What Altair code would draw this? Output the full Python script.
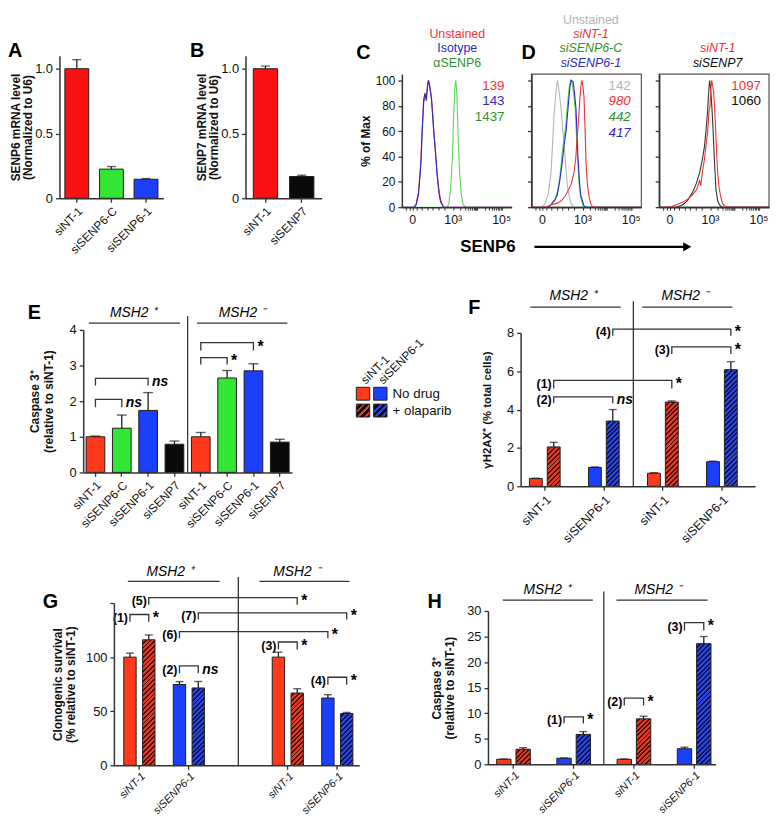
import math
import altair as alt
import pandas as pd

FONT = "Liberation Sans"
M = 8                 # page margin
CW, CH = 770, 815     # canvas size


def P(v):
    return v - M


# ======================= DATA =======================
a_cats = ["siNT-1", "siSENP6-C", "siSENP6-1"]
a_vals = [1.0, 0.225, 0.147]
a_errs = [0.07, 0.02, 0.005]

b_cats = ["siNT-1", "siSENP7"]
b_vals = [1.0, 0.168]
b_errs = [0.02, 0.01]

# flow histograms on the (biexponential) display axis: (display position, % of max)
flow_tick_pos = [0, 1.41, 3.1]
flow_tick_lab = ["0", "10³", "10⁵"]
c_unstained = [(-0.38, 0), (0.05, 0), (0.12, 3), (0.2, 12), (0.28, 35), (0.33, 62), (0.38, 82), (0.43, 88),
               (0.47, 86), (0.52, 98), (0.55, 100), (0.6, 93), (0.65, 87), (0.7, 72), (0.73, 61), (0.8, 40),
               (0.85, 27), (0.92, 12), (0.97, 6), (1.07, 0), (3.45, 0)]
c_isotype = [(-0.38, 0), (0.05, 0), (0.12, 2), (0.2, 10), (0.28, 33), (0.33, 60), (0.38, 85), (0.43, 90),
             (0.47, 84), (0.52, 96), (0.55, 100), (0.6, 95), (0.65, 86), (0.7, 70), (0.73, 60), (0.8, 42),
             (0.85, 25), (0.92, 10), (0.97, 4), (1.07, 0), (3.45, 0)]
c_asenp6 = [(-0.38, 0), (1.2, 0), (1.26, 3), (1.32, 15), (1.38, 38), (1.43, 75), (1.47, 95), (1.5, 100),
            (1.54, 88), (1.59, 50), (1.64, 25), (1.69, 10), (1.76, 2), (1.85, 0), (3.45, 0)]
c_mfi = ["139", "143", "1437"]

d_unstained = [(-0.38, 0), (-0.05, 0), (0.07, 2), (0.2, 10), (0.3, 27), (0.41, 74), (0.48, 92), (0.52, 100),
               (0.56, 95), (0.6, 88), (0.66, 76), (0.72, 58), (0.76, 49), (0.82, 30), (0.87, 17), (0.95, 7),
               (1.0, 3), (1.1, 0), (3.45, 0)]
d_sint1 = [(-0.38, 0), (0.1, 0), (0.3, 2), (0.5, 3), (0.66, 5), (0.8, 9), (0.87, 12), (1.0, 18), (1.1, 27),
           (1.16, 38), (1.21, 54), (1.27, 72), (1.31, 87), (1.35, 97), (1.38, 100), (1.42, 94), (1.45, 87),
           (1.49, 60), (1.52, 35), (1.57, 18), (1.62, 9), (1.68, 3), (1.75, 0), (3.45, 0)]
d_senp6c = [(-0.38, 0), (0.2, 0), (0.3, 2), (0.45, 7), (0.52, 12), (0.6, 22), (0.67, 38), (0.74, 52),
            (0.8, 62), (0.87, 80), (0.93, 94), (0.98, 100), (1.04, 97), (1.1, 88), (1.15, 75), (1.22, 40),
            (1.28, 18), (1.33, 8), (1.42, 1), (1.5, 0), (3.45, 0)]
d_senp61 = [(-0.38, 0), (0.2, 0), (0.3, 2), (0.45, 6), (0.52, 10), (0.6, 20), (0.69, 35), (0.76, 50),
            (0.83, 61), (0.9, 80), (0.96, 95), (1.0, 100), (1.07, 99), (1.12, 90), (1.17, 78), (1.24, 40),
            (1.3, 18), (1.34, 9), (1.45, 1), (1.55, 0), (3.45, 0)]
d_mfi = ["142", "980", "442", "417"]

d7_senp7 = [(-0.38, 0), (0.2, 0), (0.45, 2), (0.6, 5), (0.79, 12), (0.92, 19), (1.03, 27), (1.12, 37),
            (1.2, 48), (1.26, 62), (1.31, 76), (1.35, 92), (1.38, 100), (1.42, 92), (1.46, 78), (1.5, 61),
            (1.55, 35), (1.6, 14), (1.66, 5), (1.72, 2), (1.8, 0), (3.45, 0)]
d7_sint1 = [(-0.38, 0), (0.0, 0), (0.1, 1), (0.45, 4), (0.6, 6), (0.79, 10), (0.93, 14), (1.03, 21),
            (1.07, 17), (1.13, 28), (1.2, 38), (1.26, 50), (1.31, 59), (1.36, 76), (1.39, 79), (1.42, 92),
            (1.45, 100), (1.49, 95), (1.52, 91), (1.56, 75), (1.59, 61), (1.63, 40), (1.66, 27),
            (1.71, 15), (1.76, 9), (1.83, 3), (1.9, 1), (2.0, 0), (3.45, 0)]
d7_mfi = ["1097", "1060"]

e_cats = ["siNT-1", "siSENP6-C", "siSENP6-1", "siSENP7"]
e_plus_vals = [1.0, 1.24, 1.74, 0.79]
e_plus_errs = [0.02, 0.37, 0.5, 0.09]
e_minus_vals = [1.0, 2.65, 2.85, 0.85]
e_minus_errs = [0.12, 0.21, 0.2, 0.08]
# (from, to, top, drop, significance)
e_brackets = [("+|siNT-1", "+|siSENP6-C", 2.05, 1.83, "ns"),
              ("+|siNT-1", "+|siSENP6-1", 2.64, 2.44, "ns"),
              ("-|siNT-1", "-|siSENP6-C", 3.22, 3.03, "*"),
              ("-|siNT-1", "-|siSENP6-1", 3.64, 3.42, "*")]

grp_cats = ["siNT-1", "siSENP6-1"]
treatments = ["No drug", "+ olaparib"]

f_nodrug_vals = [0.4, 0.98, 0.68, 1.28]
f_nodrug_errs = [0.02, 0.03, 0.03, 0.03]
f_olap_vals = [2.05, 3.4, 4.39, 6.08]
f_olap_errs = [0.24, 0.6, 0.06, 0.42]
# (label, from key, from treatment, to key, to treatment, top, drop, significance)
f_brackets = [("(1)", "+|siNT-1", 1, "-|siNT-1", 1, 5.52, 5.1, "*"),
              ("(2)", "+|siNT-1", 1, "+|siSENP6-1", 1, 4.66, 4.33, "ns"),
              ("(3)", "-|siNT-1", 1, "-|siSENP6-1", 1, 7.27, 6.9, "*"),
              ("(4)", "+|siSENP6-1", 1, "-|siSENP6-1", 1, 8.2, 7.85, "*")]

g_nodrug_vals = [100, 74.7, 100, 62.2]
g_nodrug_errs = [3.7, 2.7, 4.6, 3.1]
g_olap_vals = [116, 71.5, 66.8, 47.9]
g_olap_errs = [4.5, 6.0, 4.0, 1.0]
g_brackets = [("(1)", "+|siNT-1", 0, "+|siNT-1", 1, 139.4, 132.6, "*"),
              ("(2)", "+|siSENP6-1", 0, "+|siSENP6-1", 1, 92, 85, "ns"),
              ("(3)", "-|siNT-1", 0, "-|siNT-1", 1, 114, 107, "*"),
              ("(4)", "-|siSENP6-1", 0, "-|siSENP6-1", 1, 81.4, 74.4, "*"),
              ("(5)", "+|siNT-1", 1, "-|siNT-1", 1, 155, 148.3, "*"),
              ("(6)", "+|siSENP6-1", 0, "-|siSENP6-1", 0, 123.5, 117.4, "*"),
              ("(7)", "+|siSENP6-1", 1, "-|siSENP6-1", 1, 141, 134.7, "*")]

h_nodrug_vals = [1.0, 1.2, 1.0, 3.05]
h_nodrug_errs = [0.05, 0.05, 0.05, 0.3]
h_olap_vals = [2.95, 5.85, 8.9, 23.6]
h_olap_errs = [0.3, 0.55, 0.5, 1.4]
h_brackets = [("(1)", "+|siSENP6-1", 0, "+|siSENP6-1", 1, 9.28, 8.0, "*"),
              ("(2)", "-|siNT-1", 0, "-|siNT-1", 1, 12.96, 11.5, "*"),
              ("(3)", "-|siSENP6-1", 0, "-|siSENP6-1", 1, 27.7, 26.2, "*")]

# ======================= STYLE =======================
EDGE = "#1e1e1e"
RED_A = "#fb1111"
RED = "#ff3a1c"
GREEN = "#33e633"
BLUE = "#1c3ffb"
BLACK = "#0a0a0a"
RED_H, RED_D = "#e03a22", "#4a0d06"
BLUE_H, BLUE_D = "#2b45e0", "#0a1048"
F_RED, F_BLUE, F_GREEN, F_GRAY = "#f03232", "#2a2ac4", "#5ad65a", "#b4b4b4"
T_GREEN = "#2f8f2f"

AXB = dict(domainColor="#333333", domainWidth=1.5, tickColor="#333333", tickWidth=1.3, tickSize=4,
           labelFont=FONT, labelColor="#111111", titleFont=FONT, titleColor="#111111",
           titleFontWeight="bold", grid=False, labelFlush=False, labelOverlap=False,
           minExtent=0, maxExtent=400, zindex=1)


def y_axis(X, values, title=None, fs=13, tp=6, tfs=12, labels=True, expr=None, lh=13):
    kw = dict(AXB)
    kw.update(orient="left", offset=-P(X), values=values, labelFontSize=fs, labelPadding=3,
              titleFontSize=tfs, titlePadding=tp, titleLineHeight=lh, title=title)
    if not labels:
        kw["labels"] = False
    if expr:
        kw["labelExpr"] = expr
    return alt.Axis(**kw)


def x_axis(Y, values=None, expr=None, fs=12, angled=True, italic=False, lp=3, **extra):
    kw = dict(AXB)
    kw.update(orient="bottom", offset=P(Y) - CH, labelFontSize=fs, labelPadding=lp, title=None)
    if angled:
        kw.update(labelAngle=-45, labelAlign="right", labelBaseline="top")
    else:
        kw.update(labelAngle=0)
    if values is not None:
        kw["values"] = values
    if expr:
        kw["labelExpr"] = expr
    if italic:
        kw["labelFontStyle"] = "italic"
    kw.update(extra)
    return alt.Axis(**kw)


def band_geom(x0, x1, n, pi, po):
    step = (x1 - x0) / (n - pi + 2 * po)
    return step, step * (1 - pi)


def split_bp(bp, bw):
    """band position inside [0,1] plus remaining pixel shift"""
    c = min(1.0, max(0.0, bp))
    return c, (bp - c) * bw


def hatch(c1, c2, w, h, period=3.4, frac=0.6):
    s = w + h
    d = w * w + h * h
    n = max(2, int(round(s / (1.4142 * period))))
    stops = []
    for k in range(n):
        o0, o1, o2 = k / n, (k + frac) / n, (k + 1) / n
        stops += [alt.GradientStop(color=c1, offset=o0), alt.GradientStop(color=c1, offset=o1),
                  alt.GradientStop(color=c2, offset=o1), alt.GradientStop(color=c2, offset=o2)]
    return alt.LinearGradient(gradient="linear", stops=stops, x1=0, y1=0, x2=w * s / d, y2=h * s / d)


class Enc:
    """x / y encodings of one panel, all carrying the panel's own scale and axis"""

    def __init__(self, xs, ys, xax, yax):
        self.xs, self.ys, self.xax, self.yax = xs, ys, xax, yax

    def X(self, field, **kw):
        return alt.X(field, scale=self.xs, axis=self.xax, **kw)

    def Y(self, field, **kw):
        return alt.Y(field, scale=self.ys, axis=self.yax, **kw)


# ======================= SIMPLE BAR PANELS (A, B, E) =======================
def simple_panel(keys, vals, errs, colors, enc, cap):
    df = pd.DataFrame({"key": keys, "v": vals, "top": [v + e for v, e in zip(vals, errs)], "col": colors})
    layers = []
    for col in dict.fromkeys(colors):
        layers.append(alt.Chart(df).transform_filter(alt.datum.col == col)
                      .mark_bar(fill=col, stroke=EDGE, strokeWidth=1)
                      .encode(x=enc.X("key:N"), y=enc.Y("v:Q")))
    layers.append(alt.Chart(df).mark_rule(color=EDGE, strokeWidth=1.3).encode(
        x=enc.X("key:N"), y=enc.Y("v:Q"), y2="top:Q"))
    layers.append(alt.Chart(df).mark_tick(orient="horizontal", size=cap, thickness=1.4, color=EDGE).encode(
        x=enc.X("key:N"), y=enc.Y("top:Q")))
    return layers


lab_expr = "split(datum.label, '|')[1]"
dec_expr = "datum.value == 0 ? '0' : format(datum.value, '.1f')"

# ---- A ----
encA = Enc(alt.Scale(domain=a_cats, range=[P(60), P(165)], paddingInner=0.31, paddingOuter=0.157),
           alt.Scale(domain=[0, 1.1], range=[P(196), P(52)]),
           x_axis(196, fs=12),
           y_axis(60, [0, 0.5, 1.0], ["SENP6 mRNA level", "(Normalized to U6)"], tp=0, expr=dec_expr, lh=12.5))
panelA = simple_panel(a_cats, a_vals, a_errs, [RED_A, GREEN, BLUE], encA, 9)

# ---- B ----
encB = Enc(alt.Scale(domain=b_cats, range=[P(248), P(325)], paddingInner=0.33, paddingOuter=0.215),
           alt.Scale(domain=[0, 1.1], range=[P(196), P(52)]),
           x_axis(196, fs=12),
           y_axis(248, [0, 0.5, 1.0], ["SENP7 mRNA level", "(Normalized to U6)"], tp=0, expr=dec_expr, lh=12.5))
panelB = simple_panel(b_cats, b_vals, b_errs, [RED_A, BLACK], encB, 9)

# ======================= FLOW PANELS (C, D) =======================
FX = [-0.38, 3.45]
FY = [0, 105]
DEC = (flow_tick_pos[2] - flow_tick_pos[1]) / 2          # width of one decade on the display axis
flow_minor = ([-0.25, -0.12, 0.15, 0.3, 0.5, 0.7, 0.9, 1.1] +
              [flow_tick_pos[1] + j * DEC + DEC * math.log10(k) for j in (0, 1) for k in range(2, 10)] +
              [flow_tick_pos[1] + DEC])
flow_all_ticks = sorted(flow_tick_pos + flow_minor)


def flow_panel(x0, x1, curves, mfi, mfi_cols, mfi_italic, mfi_u, mfi_p, heads, head_u, head_p,
               ylabels, frame):
    enc = Enc(alt.Scale(domain=FX, range=[P(x0), P(x1)]),
              alt.Scale(domain=FY, range=[P(205), P(70.5)]),
              x_axis(205, values=flow_all_ticks, angled=False, labels=False, tickSize=3, tickWidth=1),
              y_axis(x0, [0, 20, 40, 60, 80, 100], "% of Max" if ylabels else None, fs=12, tp=3,
                     labels=ylabels))
    layers = []
    if frame:
        fdf = pd.DataFrame({"u0": [FX[0]], "u1": [FX[1]], "p0": [FY[0]], "p1": [FY[1]]})
        layers.append(alt.Chart(fdf).mark_rect(fillOpacity=0, stroke="#555555", strokeWidth=1.2).encode(
            x=enc.X("u0:Q"), x2="u1:Q", y=enc.Y("p0:Q"), y2="p1:Q"))
    for pts, col in curves:
        df = pd.DataFrame(pts, columns=["u", "p"])
        layers.append(alt.Chart(df).mark_line(color=col, strokeWidth=1.1).encode(
            x=enc.X("u:Q"), y=enc.Y("p:Q")))
    # tick labels of the display axis, one text mark each
    for pos, lab in zip(flow_tick_pos, flow_tick_lab):
        df = pd.DataFrame({"u": [pos], "p": [-10.5]})
        layers.append(alt.Chart(df).mark_text(text=lab, font=FONT, fontSize=12.5, baseline="middle",
                                              color="#111111")
                      .encode(x=enc.X("u:Q"), y=enc.Y("p:Q")))
    for i, (t, c) in enumerate(zip(mfi, mfi_cols)):
        df = pd.DataFrame({"t": [t], "u": [mfi_u], "p": [mfi_p[i]]})
        layers.append(alt.Chart(df).mark_text(font=FONT, fontSize=13.5, align="right", baseline="middle",
                                              color=c, fontStyle="italic" if mfi_italic[i] else "normal")
                      .encode(x=enc.X("u:Q"), y=enc.Y("p:Q"), text="t:N"))
    for i, (t, c, it) in enumerate(heads):
        df = pd.DataFrame({"t": [t], "u": [head_u], "p": [head_p[i]]})
        layers.append(alt.Chart(df).mark_text(font=FONT, fontSize=12.5, align="center", baseline="middle",
                                              color=c, fontStyle="italic" if it else "normal")
                      .encode(x=enc.X("u:Q"), y=enc.Y("p:Q"), text="t:N"))
    return layers, enc


panelC, _ = flow_panel(406, 517, [(c_asenp6, F_GREEN), (c_unstained, F_RED), (c_isotype, F_BLUE)],
                       c_mfi, [F_RED, F_BLUE, T_GREEN], [False] * 3, 3.2, [95.5, 83.4, 70.9],
                       [("Unstained", F_RED, False), ("Isotype", F_BLUE, False), ("αSENP6", T_GREEN, False)],
                       1.55, [136.6, 125.3, 114.0], True, False)
panelD, encD = flow_panel(537, 648, [(d_unstained, F_GRAY), (d_senp6c, F_GREEN), (d_senp61, F_BLUE),
                                     (d_sint1, F_RED)],
                          d_mfi, [F_GRAY, F_RED, T_GREEN, F_BLUE], [False, True, True, True], 3.08,
                          [95.5, 83.4, 70.9, 58.1],
                          [("Unstained", F_GRAY, False), ("siNT-1", F_RED, True),
                           ("siSENP6-C", T_GREEN, True), ("siSENP6-1", F_BLUE, True)],
                          1.69, [148.0, 136.6, 125.3, 114.0], False, True)
panelD7, _ = flow_panel(666, 777, [(d7_senp7, "#333333"), (d7_sint1, F_RED)],
                        d7_mfi, [F_RED, BLACK], [False, False], 3.17, [95.5, 83.4],
                        [("siNT-1", F_RED, True), ("siSENP7", BLACK, True)],
                        1.66, [125.3, 114.0], False, True)

# "SENP6" axis caption with arrow (in panel D coordinates)
cap_df = pd.DataFrame({"t": ["SENP6"], "u": [-1.9], "p": [-31.3]})
arrow_df = pd.DataFrame({"u0": [-0.28], "u1": [5.0], "p": [-31.3]})
head_df = pd.DataFrame({"u": [5.05], "p": [-31.3]})
panelD += [
    alt.Chart(cap_df).mark_text(font=FONT, fontSize=17, fontWeight="bold", baseline="middle").encode(
        x=encD.X("u:Q"), y=encD.Y("p:Q"), text="t:N"),
    alt.Chart(arrow_df).mark_rule(color="black", strokeWidth=2.5).encode(
        x=encD.X("u0:Q"), x2="u1:Q", y=encD.Y("p:Q")),
    alt.Chart(head_df).mark_point(shape="triangle-right", filled=True, color="black", size=90, opacity=1).encode(
        x=encD.X("u:Q"), y=encD.Y("p:Q")),
]


def annotations(enc, bw, sep_key, sep_bp, sep_top, heads, head_y, unders, under_y):
    layers = []
    bp, off = split_bp(sep_bp, bw)
    sdf = pd.DataFrame({"key": [sep_key], "y0": [0], "y1": [sep_top]})
    layers.append(alt.Chart(sdf).mark_rule(color="#333333", strokeWidth=1.3, xOffset=off).encode(
        x=enc.X("key:N", bandPosition=bp), y=enc.Y("y0:Q"), y2="y1:Q"))
    for (t, k, hbp) in heads:
        bp, off = split_bp(hbp, bw)
        hdf = pd.DataFrame({"t": [t], "key": [k], "y": [head_y]})
        layers.append(alt.Chart(hdf).mark_text(font=FONT, fontSize=14, fontStyle="italic", baseline="middle",
                                               dx=off)
                      .encode(x=enc.X("key:N", bandPosition=bp), y=enc.Y("y:Q"), text="t:N"))
    for (k1, bp1, k2, bp2) in unders:
        b1, o1 = split_bp(bp1, bw)
        b2, o2 = split_bp(bp2, bw)
        udf = pd.DataFrame({"k1": [k1], "k2": [k2], "y": [under_y]})
        layers.append(alt.Chart(udf).mark_rule(color="#333333", strokeWidth=1.3, xOffset=o1, x2Offset=o2).encode(
            x=enc.X("k1:N", bandPosition=b1), x2=alt.X2("k2", bandPosition=b2), y=enc.Y("y:Q")))
    return layers


# ======================= PANEL E =======================
e_keys = ["+|" + c for c in e_cats] + ["-|" + c for c in e_cats]
e_cols = [RED, GREEN, BLUE, BLACK] * 2
E_PI, E_PO = 0.29, 0.11
_, E_BW = band_geom(84, 295, 8, E_PI, E_PO)
encE = Enc(alt.Scale(domain=e_keys, range=[P(84), P(295)], paddingInner=E_PI, paddingOuter=E_PO),
           alt.Scale(domain=[0, 4], range=[P(473), P(329)]),
           x_axis(473, expr=lab_expr, fs=12),
           y_axis(84, [0, 1, 2, 3, 4], ["Caspase 3⁺", "(relative to siNT-1)"], tp=14, lh=14))
panelE = simple_panel(e_keys, e_plus_vals + e_minus_vals, e_plus_errs + e_minus_errs, e_cols, encE, 10)
panelE += annotations(encE, E_BW, "-|siNT-1", -E_PI / (2 * (1 - E_PI)), 4.39,
                      [("MSH2 ⁺", "+|siSENP6-1", -0.27), ("MSH2 ⁻", "-|siSENP6-1", -0.09)], 4.47,
                      [("+|siNT-1", 0.15, "+|siSENP7", 0.8), ("-|siNT-1", 0.3, "-|siSENP7", 0.9)], 4.19)

# E brackets
eb_rows, el_rows = [], []
for i, (k1, k2, top, drop, sig) in enumerate(e_brackets):
    for j, (k, y) in enumerate([(k1, drop), (k1, top), (k2, top), (k2, drop)]):
        eb_rows.append({"bid": i, "seq": j, "key": k, "y": y})
    el_rows.append({"key": k2, "y": (top + drop) / 2, "sig": sig})
eb_df = pd.DataFrame(eb_rows)
el_df = pd.DataFrame(el_rows)
panelE += [
    alt.Chart(eb_df).mark_line(color="#333333", strokeWidth=1.3).encode(
        x=encE.X("key:N"), y=encE.Y("y:Q"), detail="bid:N", order="seq:Q"),
    alt.Chart(el_df).transform_filter(alt.datum.sig == "ns").mark_text(
        font=FONT, fontSize=14, fontWeight="bold", fontStyle="italic", align="left", dx=4, baseline="middle"
    ).encode(x=encE.X("key:N"), y=encE.Y("y:Q"), text="sig:N"),
    alt.Chart(el_df).transform_filter(alt.datum.sig == "*").mark_text(
        font=FONT, fontSize=16, fontWeight="bold", align="left", dx=4, baseline="middle"
    ).encode(x=encE.X("key:N"), y=encE.Y("y:Q"), text="sig:N"),
]

# ======================= GROUPED PANELS (F, G, H) =======================
grp_keys = ["+|" + c for c in grp_cats] + ["-|" + c for c in grp_cats]


def grouped_panel(domain, nd_v, nd_e, ol_v, ol_e, xr, pi, po, align, opi, ydom, yr, yvals, ytitle,
                  ytp, ytfs, yexpr, italic, cap, brackets, xfs=12.5, xlp=3):
    n = len(domain)
    step, bw = band_geom(xr[0], xr[1], n, pi, po)
    ostep = bw / (2 - opi)
    barw = ostep * (1 - opi)
    pxu = (yr[0] - yr[1]) / (ydom[1] - ydom[0])
    enc = Enc(alt.Scale(domain=domain, range=[P(xr[0]), P(xr[1])], paddingInner=pi, paddingOuter=po,
                        align=align),
              alt.Scale(domain=ydom, range=[P(yr[0]), P(yr[1])]),
              x_axis(yr[0], values=grp_keys, expr=lab_expr, fs=xfs, italic=italic, lp=xlp),
              y_axis(xr[0], yvals, ytitle, tp=ytp, tfs=ytfs, expr=yexpr))
    os_ = alt.Scale(domain=treatments, paddingInner=opi, paddingOuter=0)
    rows = []
    for t, vals, errs in ((treatments[0], nd_v, nd_e), (treatments[1], ol_v, ol_e)):
        for k, v, e in zip(grp_keys, vals, errs):
            rows.append({"key": k, "trt": t, "v": v, "top": v + e, "cat": k.split("|")[1]})
    df = pd.DataFrame(rows)
    xo = alt.XOffset("trt:N", scale=os_)
    layers = []
    for cat, col in ((grp_cats[0], RED), (grp_cats[1], BLUE)):
        layers.append(alt.Chart(df).transform_filter(
            (alt.datum.trt == treatments[0]) & (alt.datum.cat == cat))
            .mark_bar(fill=col, stroke=EDGE, strokeWidth=1)
            .encode(x=enc.X("key:N"), xOffset=xo, y=enc.Y("v:Q")))
    for k, v in zip(grp_keys, ol_v):
        c1, c2 = (RED_H, RED_D) if k.endswith(grp_cats[0]) else (BLUE_H, BLUE_D)
        layers.append(alt.Chart(df).transform_filter(
            (alt.datum.trt == treatments[1]) & (alt.datum.key == k))
            .mark_bar(fill=hatch(c1, c2, barw, v * pxu), stroke=EDGE, strokeWidth=1)
            .encode(x=enc.X("key:N"), xOffset=xo, y=enc.Y("v:Q")))
    layers.append(alt.Chart(df).mark_rule(color=EDGE, strokeWidth=1.3).encode(
        x=enc.X("key:N"), xOffset=xo, y=enc.Y("v:Q"), y2="top:Q"))
    layers.append(alt.Chart(df).mark_tick(orient="horizontal", size=cap, thickness=1.4, color=EDGE).encode(
        x=enc.X("key:N"), xOffset=xo, y=enc.Y("top:Q")))
    # brackets
    b_rows, l_rows = [], []
    for i, (lab, k1, t1, k2, t2, top, drop, sig) in enumerate(brackets):
        for j, (k, t, y) in enumerate([(k1, t1, drop), (k1, t1, top), (k2, t2, top), (k2, t2, drop)]):
            b_rows.append({"bid": i, "seq": j, "key": k, "trt": treatments[t], "y": y})
        mid = (top + drop) / 2
        l_rows.append({"key": k1, "trt": treatments[t1], "y": mid, "lab": lab,
                       "key2": k2, "trt2": treatments[t2], "sig": sig})
    bdf = pd.DataFrame(b_rows)
    ldf = pd.DataFrame(l_rows)
    layers.append(alt.Chart(bdf).mark_line(color="#333333", strokeWidth=1.3).encode(
        x=enc.X("key:N"), xOffset=xo, y=enc.Y("y:Q"), detail="bid:N", order="seq:Q"))
    layers.append(alt.Chart(ldf).mark_text(font=FONT, fontSize=12.5, fontWeight="bold", align="right", dx=-2,
                                           baseline="middle").encode(
        x=enc.X("key:N"), xOffset=xo, y=enc.Y("y:Q"), text="lab:N"))
    xo2 = alt.XOffset("trt2:N", scale=os_)
    layers.append(alt.Chart(ldf).transform_filter(alt.datum.sig == "*").mark_text(
        font=FONT, fontSize=16, fontWeight="bold", align="left", dx=4, baseline="middle").encode(
        x=enc.X("key2:N"), xOffset=xo2, y=enc.Y("y:Q"), text="sig:N"))
    layers.append(alt.Chart(ldf).transform_filter(alt.datum.sig == "ns").mark_text(
        font=FONT, fontSize=14, fontWeight="bold", fontStyle="italic", align="left", dx=4,
        baseline="middle").encode(
        x=enc.X("key2:N"), xOffset=xo2, y=enc.Y("y:Q"), text="sig:N"))
    return layers, enc, bw


# ---- F ----
F_PI = 0.48
panelF, encF, F_BW = grouped_panel(grp_keys, f_nodrug_vals, f_nodrug_errs, f_olap_vals, f_olap_errs,
                                   (526, 763), F_PI, 0.226, 0.33, 0.28, [0, 8], (487, 332),
                                   [0, 2, 4, 6, 8], "γH2AX⁺ (% total cells)", 14, 11.5, None, False, 8,
                                   f_brackets)
panelF += annotations(encF, F_BW, "-|siNT-1", -F_PI / (2 * (1 - F_PI)), 9.65,
                      [("MSH2 ⁺", "+|siSENP6-1", -0.5), ("MSH2 ⁻", "-|siSENP6-1", -0.7)], 9.9,
                      [("+|siNT-1", 0.03, "+|siSENP6-1", 1.05), ("-|siNT-1", -0.17, "-|siSENP6-1", 0.84)], 9.34)

# ---- G ----
g_domain = grp_keys[:2] + ["gap"] + grp_keys[2:]
panelG, encG, G_BW = grouped_panel(g_domain, g_nodrug_vals, g_nodrug_errs, g_olap_vals, g_olap_errs,
                                   (115, 363), 0.37, 0.165, 0.606, 0.342, [0, 150], (769, 605),
                                   [0, 50, 100, 150], ["Clonogenic survival", "(% relative to siNT-1)"],
                                   8, 12, "datum.value == 150 ? '' : datum.label", True, 8, g_brackets,
                                   xfs=11, xlp=1)
panelG += annotations(encG, G_BW, "gap", 0.5, 174,
                      [("MSH2 ⁺", "+|siSENP6-1", -0.1), ("MSH2 ⁻", "-|siNT-1", 0.79)], 179,
                      [("+|siNT-1", 0.13, "+|siSENP6-1", 1.49), ("-|siNT-1", -0.41, "-|siSENP6-1", 0.89)], 170)

# ---- H ----
H_PI = 0.441
panelH, encH, H_BW = grouped_panel(grp_keys, h_nodrug_vals, h_nodrug_errs, h_olap_vals, h_olap_errs,
                                   (493, 723), H_PI, 0.1105, 0.654, 0.256, [0, 30], (768, 613),
                                   [0, 5, 10, 15, 20, 25, 30], ["Caspase 3⁺", "(relative to siNT-1)"],
                                   10, 12, None, True, 8, h_brackets, xfs=11, xlp=1)
panelH += annotations(encH, H_BW, "-|siNT-1", -H_PI / (2 * (1 - H_PI)), 33.8,
                      [("MSH2 ⁺", "+|siSENP6-1", -0.29), ("MSH2 ⁻", "-|siNT-1", 1.22)], 34.0,
                      [("+|siNT-1", 0.18, "+|siSENP6-1", 1.07), ("-|siNT-1", -0.02, "-|siSENP6-1", 0.9)], 32.1)

# ======================= LEGEND =======================
encL = Enc(alt.Scale(domain=grp_cats, range=[P(360), P(391)], paddingInner=0.23, paddingOuter=0),
           alt.Scale(domain=treatments, range=[P(387), P(417)], paddingInner=0.235, paddingOuter=0),
           alt.Axis(orient="top", offset=-P(384), domain=False, ticks=False, labelAngle=-45, labelAlign="left",
                    labelBaseline="middle", labelPadding=3, labelFont=FONT, labelFontSize=12,
                    labelColor="#111111", title=None, grid=False, labelOverlap=False),
           alt.Axis(orient="right", offset=P(394) - CW, domain=False, ticks=False, labelPadding=2,
                    labelFont=FONT, labelFontSize=13.5, labelColor="#111111", title=None, grid=False,
                    labelOverlap=False))
leg_df = pd.DataFrame([{"cat": c, "trt": t} for t in treatments for c in grp_cats])
legend = []
for cat, col in ((grp_cats[0], RED), (grp_cats[1], BLUE)):
    legend.append(alt.Chart(leg_df).transform_filter((alt.datum.cat == cat) & (alt.datum.trt == treatments[0]))
                  .mark_rect(fill=col, stroke=EDGE, strokeWidth=1)
                  .encode(x=encL.X("cat:N"), y=encL.Y("trt:N")))
for cat, c1 in ((grp_cats[0], RED_H), (grp_cats[1], BLUE_H)):
    legend.append(alt.Chart(leg_df).transform_filter((alt.datum.cat == cat) & (alt.datum.trt == treatments[1]))
                  .mark_rect(fill=hatch(c1, BLACK, 13.5, 13, period=4.6, frac=0.45), stroke=EDGE, strokeWidth=1)
                  .encode(x=encL.X("cat:N"), y=encL.Y("trt:N")))

# ======================= PANEL LETTERS =======================
letters = []
for t, X, Y in (("A", 8, 53), ("B", 192, 53), ("C", 360, 55), ("D", 527, 55),
                ("E", 28, 318), ("F", 473, 313), ("G", 43, 610), ("H", 432, 610)):
    letters.append(alt.Chart(pd.DataFrame({"t": [t]})).mark_text(
        font=FONT, fontSize=20, fontWeight="bold", align="left", baseline="alphabetic")
        .encode(x=alt.value(P(X)), y=alt.value(P(Y)), text="t:N"))

panels = [panelA, panelB, panelC, panelD, panelD7, panelE, panelF, panelG, panelH, legend]
chart = alt.layer(*[alt.layer(*p) for p in panels], *letters).resolve_scale(
    x="independent", y="independent", xOffset="independent"
).properties(
    width=CW, height=CH, padding=0, autosize=alt.AutoSizeParams(type="none"), background="white"
).configure_view(stroke=None)

chart.save("out.html", embed_options={"renderer": "svg", "actions": False})
